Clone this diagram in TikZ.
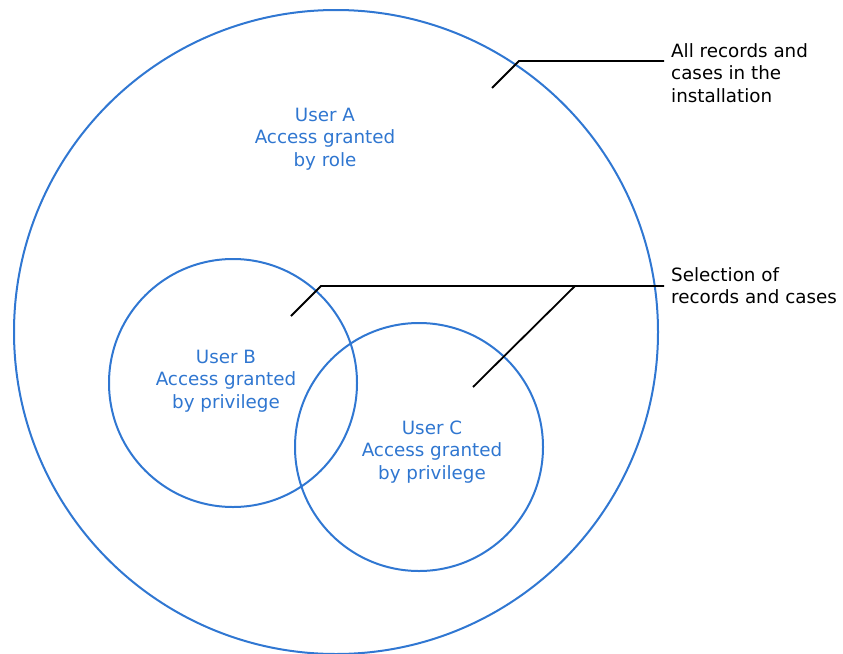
\documentclass[tikz,border=0pt]{standalone}
\usepackage{fontspec}
\setmainfont{DejaVu Sans}
\definecolor{setblue}{HTML}{3077D2}
\definecolor{labelblue}{HTML}{2F76D0}
\begin{document}
\begin{tikzpicture}[x=1pt,y=-1pt,
  setcircle/.style={draw=setblue,line width=2pt},
  settext/.style={text=labelblue,align=center,inner sep=0pt,
    font=\fontsize{18.3}{22.5}\selectfont},
  sidetext/.style={text=black,align=left,inner sep=0pt,anchor=north west,
    font=\fontsize{18.3}{22.5}\selectfont},
  leader/.style={draw=black,line width=1.8pt}]
\useasboundingbox (0,0) rectangle (843,653);
% sets
\node[setcircle,circle,minimum size=644pt,inner sep=0pt] (all) at (336,332) {};
\node[setcircle,circle,minimum size=248pt,inner sep=0pt] (setb) at (233,383) {};
\node[setcircle,circle,minimum size=248pt,inner sep=0pt] (setc) at (419,447) {};
% set captions
\node[settext] (usera) at (325,139) {User A\\Access granted\\by role};
\node[settext] (userb) at (226,381) {User B\\Access granted\\by privilege};
\node[settext] (userc) at (432,452) {User C\\Access granted\\by privilege};
% side labels
\node[sidetext] (alllabel) at (671,43) {All records and\\cases in the\\installation};
\node[sidetext] (sellabel) at (671,267) {Selection of\\records and cases};
% leader lines
\coordinate (a0) at (492,88);
\coordinate (a1) at (519,61);
\coordinate (a2) at (664,61);
\coordinate (b0) at (291,316);
\coordinate (b1) at (321,286);
\coordinate (b2) at (664,286);
\coordinate (c0) at (473,387);
\coordinate (c1) at (575,286);
\draw[leader] (a0) -- (a1) -- (a2);
\draw[leader] (b0) -- (b1) -- (b2);
\draw[leader] (c0) -- (c1);
\end{tikzpicture}
\end{document}
